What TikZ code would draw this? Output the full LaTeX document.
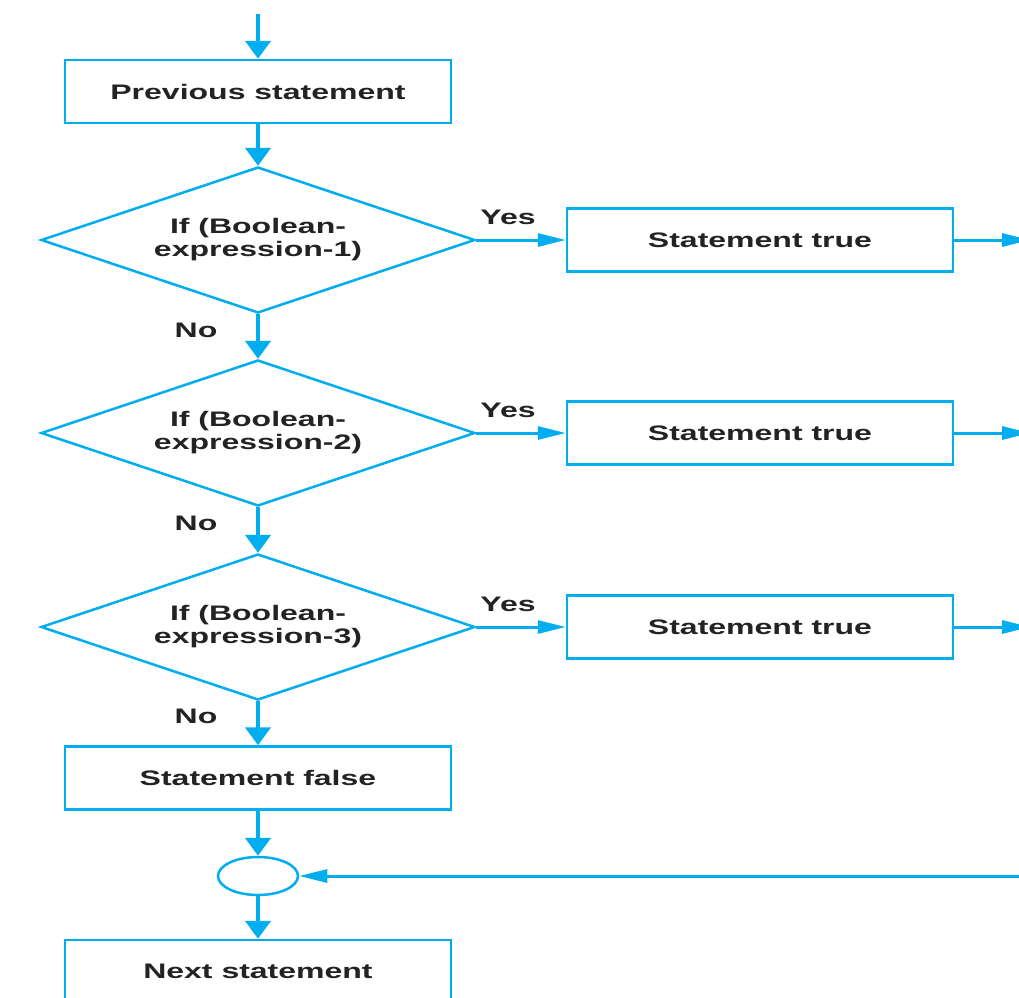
\documentclass[tikz,border=0pt]{standalone}
\usepackage{fontspec}
\setmainfont{Liberation Sans}
\usetikzlibrary{shapes.geometric,arrows.meta}
\definecolor{fc}{RGB}{0,174,239}
\definecolor{tc}{RGB}{35,35,35}
\newcommand{\wt}[1]{\scalebox{1.6}[1.05]{\bfseries #1}}
\newcommand{\wtt}[2]{\scalebox{1.6}[1.05]{\bfseries\begin{tabular}{@{}c@{}}#1\\#2\end{tabular}}}
\begin{document}
\begin{tikzpicture}[x=1pt,y=-1pt,
  font=\fontsize{20}{22}\selectfont, text=tc,
  box/.style={draw=fc, line width=2.5pt, minimum width=386pt, minimum height=63pt, inner sep=0pt},
  dia/.style={draw=fc, line width=2.5pt, shape=diamond, shape aspect=2.973, minimum width=434pt, minimum height=146pt, inner sep=0pt},
  junc/.style={draw=fc, line width=2.5pt, shape=ellipse, minimum width=80pt, minimum height=38pt, inner sep=0pt},
  arr/.style={draw=fc, line width=4.5pt, -{Triangle[length=18pt,width=25pt]}, fc},
  harr/.style={draw=fc, line width=3pt, -{Triangle[length=28pt,width=13pt]}, fc},
  lbl/.style={inner sep=0pt}
]
\useasboundingbox (0,0) rectangle (1019,997);
\clip (0,0) rectangle (1019,997);
\fill[white] (0,0) rectangle (1019,997);

\coordinate (top) at (258,14);
\node[box] (prev) at (258,91.5) {\wt{Previous statement}};
\node[dia] (d1) at (258,240) {\wtt{If (Boolean-}{expression-1)}};
\node[dia] (d2) at (258,433) {\wtt{If (Boolean-}{expression-2)}};
\node[dia] (d3) at (258,627) {\wtt{If (Boolean-}{expression-3)}};
\node[box] (t1) at (760,240) {\wt{Statement true}};
\node[box] (t2) at (760,433) {\wt{Statement true}};
\node[box] (t3) at (760,627) {\wt{Statement true}};
\node[box] (sf) at (258,778) {\wt{Statement false}};
\node[junc] (j) at (258,876) {};
\node[box] (next) at (258,971.5) {\wt{Next statement}};

\coordinate (r1) at (1030,240);
\coordinate (r2) at (1030,433);
\coordinate (r3) at (1030,627);
\coordinate (rj) at (1030,876);

\draw[arr] (top) -- (prev.north);
\draw[arr] (prev.south) -- (d1.north);
\draw[arr] (d1.south) -- (d2.north);
\draw[arr] (d2.south) -- (d3.north);
\draw[arr] (d3.south) -- (sf.north);
\draw[arr] (sf.south) -- (j.north);
\draw[arr] (j.south) -- (next.north);

\draw[harr] (d1.east) -- (t1.west);
\draw[harr] (d2.east) -- (t2.west);
\draw[harr] (d3.east) -- (t3.west);
\draw[harr] (t1.east) -- (r1);
\draw[harr] (t2.east) -- (r2);
\draw[harr] (t3.east) -- (r3);
\draw[harr] (rj) -- (j.east);

\node[lbl] (y1) at (508,217) {\wt{Yes}};
\node[lbl] (y2) at (508,410) {\wt{Yes}};
\node[lbl] (y3) at (508,604) {\wt{Yes}};
\node[lbl] (n1) at (196,330) {\wt{No}};
\node[lbl] (n2) at (196,523) {\wt{No}};
\node[lbl] (n3) at (196,716) {\wt{No}};
\end{tikzpicture}
\end{document}
